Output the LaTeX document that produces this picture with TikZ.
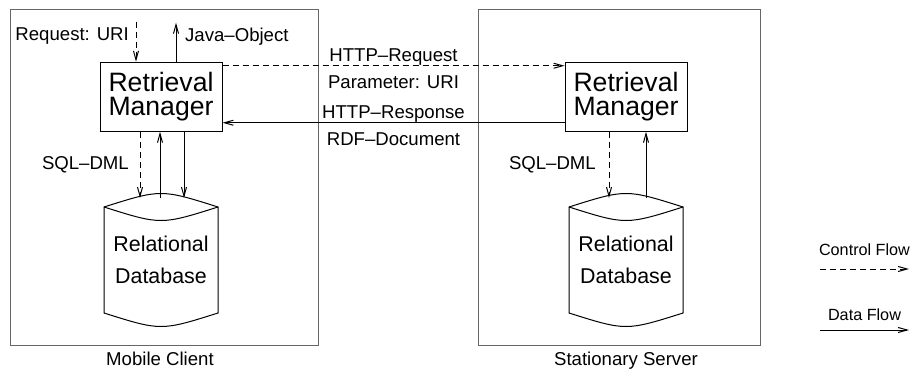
\documentclass[tikz,border=0pt]{standalone}
\usepackage{fontspec}
\setmainfont{Liberation Sans}
\usepackage{tikz}
\usetikzlibrary{arrows.meta,calc,positioning}
\definecolor{framegray}{rgb}{0.40,0.40,0.40}
\tikzstyle{sysframe}=[rectangle, draw=framegray, line width=0.5pt, inner sep=0pt, outer sep=0pt, minimum height=167.75pt]
\tikzstyle{rmbox}=[rectangle, draw, line width=0.5pt, minimum width=61pt, minimum height=34.5pt, inner sep=0pt, align=center, font=\fontsize{13.3}{12}\selectfont]
\tikzstyle{dbbox}=[rectangle, minimum width=57pt, minimum height=62pt, inner sep=0pt, outer sep=0pt, align=center, font=\fontsize{10.7}{16}\selectfont]
\tikzstyle{lbl}=[font=\fontsize{9.3}{11}\selectfont]
\tikzstyle{keylbl}=[font=\fontsize{8.1}{10}\selectfont]
\tikzstyle{dataflow}=[-{Straight Barb[length=4.5pt,width=2.5pt]}, line width=0.5pt]
\tikzstyle{ctrlflow}=[dataflow, dash pattern=on 3pt off 2pt]
\newcommand{\sysframe}[3]{
	\node[sysframe, minimum width=#3] (#1) at (#2) {};}
\newcommand{\rmbox}[2]{
	\node[rmbox] (#1) at (#2) {Retrieval\\Manager};}
\newcommand{\dbbox}[2]{
	\node[dbbox] (#1) at (#2) {Relational\\Database};
	\draw[line width=0.5pt] ([yshift=-4.5pt]#1.north west) .. controls ([yshift=4.5pt]#1.north) .. ([yshift=-4.5pt]#1.north east)
		-- ([yshift=4.5pt]#1.south east) .. controls ([yshift=-4.5pt]#1.south) .. ([yshift=4.5pt]#1.south west) -- cycle;
	\draw[line width=0.5pt] ([yshift=-4.5pt]#1.north west) .. controls ([yshift=-13.5pt]#1.north) .. ([yshift=-4.5pt]#1.north east);}

\begin{document}
\begin{tikzpicture}[x=0.5pt, y=-0.5pt]
	\useasboundingbox (0,0) rectangle (910,369);

	\sysframe{client}{164,177.25}{154pt}
	\sysframe{server}{619,177.25}{141pt}
	\node[lbl, below=0pt] (clientname) at (160,345) {Mobile Client};
	\node[lbl, below=0pt] (servername) at (626,345) {Stationary Server};

	\rmbox{rmc}{161,96.75}
	\rmbox{rms}{626,96.75}
	\dbbox{dbc}{161,260}
	\dbbox{dbs}{626,260}

	% client side
	\coordinate (req) at ($(rmc.north)+(-25,-40)$);
	\coordinate (obj) at ($(rmc.north)+(15,-39)$);
	\draw[ctrlflow] (req) -- node[lbl, left, pos=0.36] {Request: URI} (req |- rmc.north);
	\draw[dataflow] (obj |- rmc.north) -- node[lbl, right=1pt, pos=0.65] {Java--Object} (obj);
	\draw[ctrlflow] ($(rmc.south)+(-21,0)$) -- node[lbl, left=2pt] {SQL--DML} ($(dbc.north)+(-21,0)$);
	\draw[dataflow] ($(dbc.north)+(-1,0)$) -- ($(rmc.south)+(-1,0)$);
	\draw[dataflow] ($(rmc.south)+(23,0)$) -- ($(dbc.north)+(23,0)$);

	% between client and server
	\draw[ctrlflow] ($(rmc.north east)+(0,4)$) -- node[lbl, above, inner sep=0pt] {HTTP--Request}
		node[lbl, below=4.5pt, inner sep=0pt] {Parameter: URI} ($(rms.north west)+(0,4)$);
	\draw[dataflow] ($(rms.south west)+(0,-9)$) -- node[lbl, above, inner sep=0pt] {HTTP--Response}
		node[lbl, below=4.5pt, inner sep=0pt] {RDF--Document} ($(rmc.south east)+(0,-9)$);

	% server side
	\draw[ctrlflow] ($(rms.south)+(-17,0)$) -- node[lbl, left=3pt] {SQL--DML} ($(dbs.north)+(-17,0)$);
	\draw[dataflow] ($(dbs.north)+(20,0)$) -- ($(rms.south)+(20,0)$);

	% legend
	\coordinate (ctrlfrom) at (820,269);
	\coordinate (ctrlto) at (909,269);
	\coordinate (datafrom) at (820,330);
	\coordinate (datato) at (909,330);
	\draw[ctrlflow] (ctrlfrom) -- node[keylbl, above=3pt] {Control Flow} (ctrlto);
	\draw[dataflow] (datafrom) -- node[keylbl, above=1pt] {Data Flow} (datato);
\end{tikzpicture}
\end{document}
